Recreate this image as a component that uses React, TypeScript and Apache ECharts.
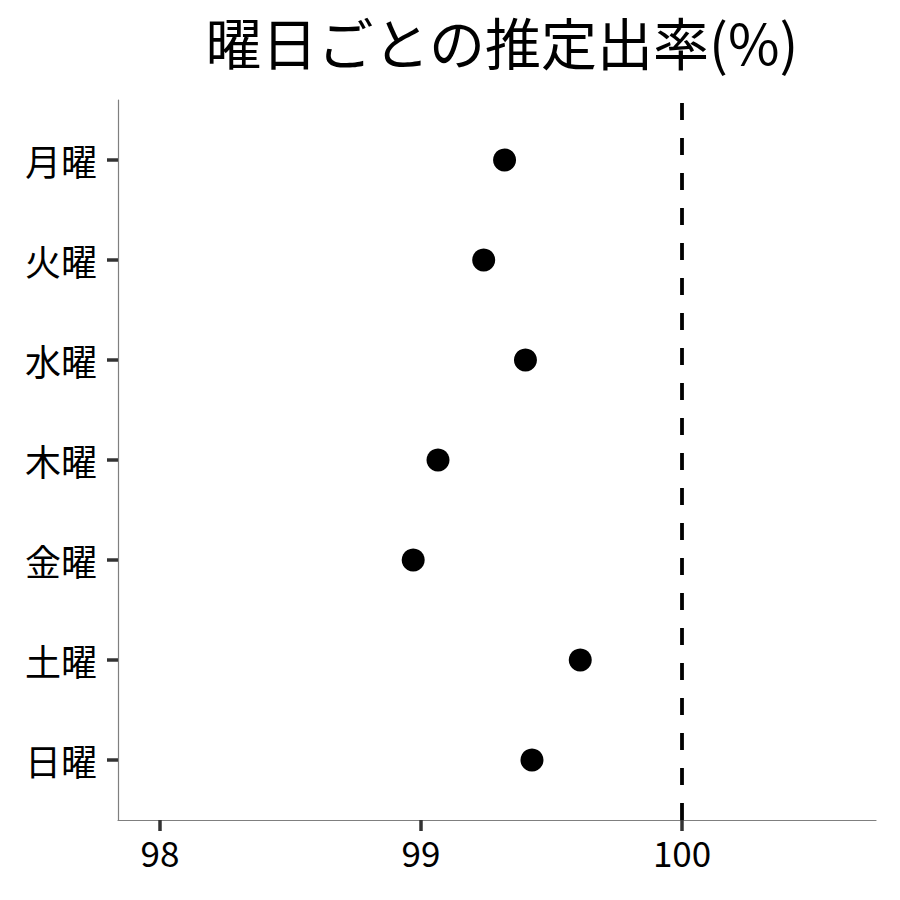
import { useEffect, useRef } from 'react';
import * as echarts from 'echarts';

const days = ['月曜', '火曜', '水曜', '木曜', '金曜', '土曜', '日曜'];
const rates = [99.32, 99.24, 99.4, 99.065, 98.97, 99.61, 99.425];
const xTicks = [98, 99, 100];
const refLine = 100;

const FONT = '"Noto Sans CJK JP", "Noto Sans", sans-serif';

const App: React.FC = () => {
  const divRef = useRef<HTMLDivElement | null>(null);

  useEffect(() => {
    if (!divRef.current) return;
    const chart = echarts.init(divRef.current, null, { renderer: 'svg' });

    // top row = first day, so position = days.length - index
    const pos = days.map((_, i) => days.length - i);

    chart.setOption({
      animation: false,
      backgroundColor: '#fff',
      textStyle: { fontFamily: FONT },
      title: {
        text: '曜日ごとの推定出率(%)',
        left: 497,
        textAlign: 'center',
        top: 7,
        textStyle: { fontFamily: FONT, fontSize: 56, fontWeight: 'normal', color: '#000' },
      },
      grid: { left: 118, right: 24, top: 100, bottom: 80 },
      xAxis: {
        type: 'value',
        min: 97.839,
        max: 100.743,
        axisLine: { onZero: false, lineStyle: { color: '#7f7f7f', width: 1.2 } },
        axisTick: { customValues: xTicks, length: 11, lineStyle: { color: '#333', width: 3.5 } },
        axisLabel: {
          customValues: xTicks,
          margin: 14,
          fontSize: 35,
          color: '#000',
          fontFamily: FONT,
        },
        splitLine: { show: false },
      },
      yAxis: {
        type: 'value',
        min: 0.4,
        max: 7.6,
        axisLine: { onZero: false, lineStyle: { color: '#7f7f7f', width: 1.2 } },
        axisTick: { customValues: pos, length: 11, lineStyle: { color: '#333', width: 3.5 } },
        axisLabel: {
          customValues: pos,
          margin: 21,
          fontSize: 36,
          color: '#000',
          fontFamily: FONT,
          formatter: (v: number) => days[days.length - Math.round(v)] ?? '',
        },
        splitLine: { show: false },
      },
      series: [
        {
          type: 'scatter',
          symbol: 'circle',
          symbolSize: 23,
          itemStyle: { color: '#000', opacity: 1 },
          data: rates.map((r, i) => [r, pos[i]]),
          markLine: {
            silent: true,
            symbol: 'none',
            label: { show: false },
            lineStyle: { color: '#000', width: 3.8, type: [17, 18] },
            data: [{ xAxis: refLine }],
          },
        },
      ],
    });

    return () => chart.dispose();
  }, []);

  return (
    <div
      ref={divRef}
      style={{ position: 'fixed', left: 0, top: 0, width: 900, height: 900 }}
    />
  );
};

export default App;
